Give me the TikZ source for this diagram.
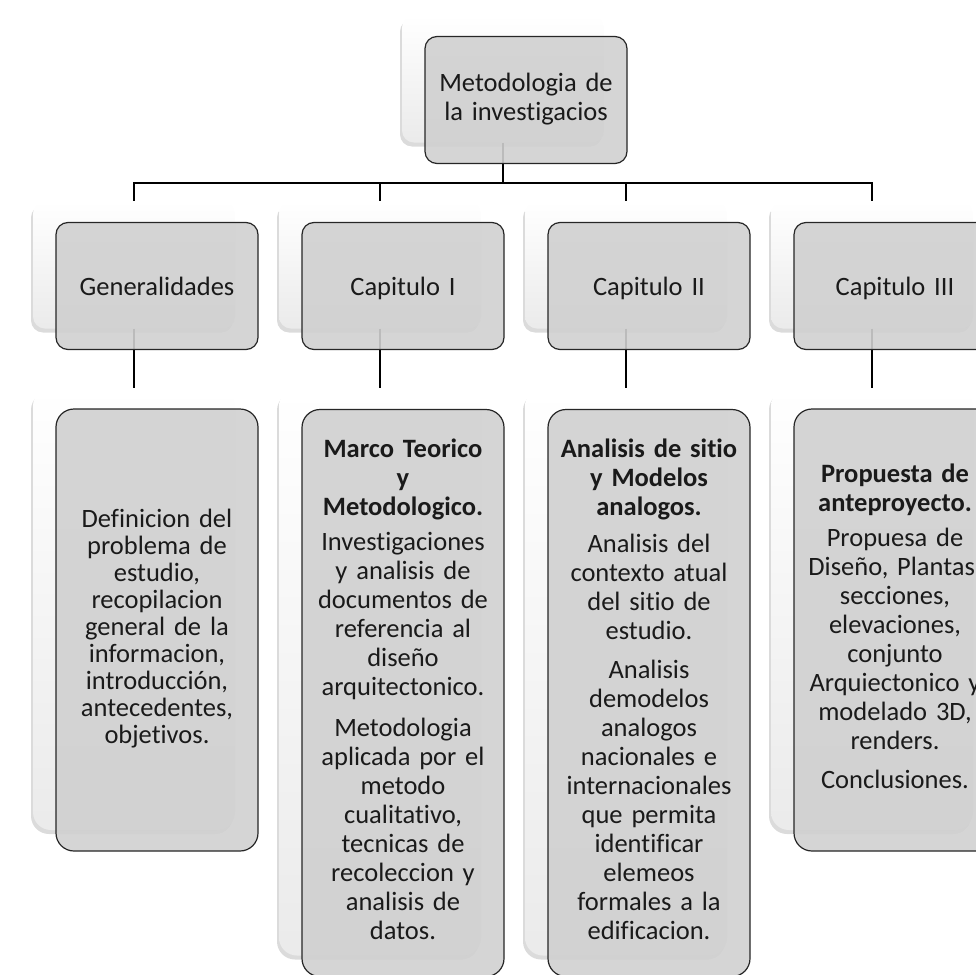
\documentclass[tikz,border=0pt]{standalone}
\usepackage{fontspec}
\setmainfont{Carlito}[Ligatures=NoCommon]
\usetikzlibrary{shadows, positioning}

\definecolor{boxgray}{RGB}{208,208,208}
\definecolor{inkblack}{RGB}{26,26,26}

\begin{document}
\begin{tikzpicture}[x=1pt, y=-1pt,
  box/.style={rectangle, inner sep=3pt, text width=196pt, align=center,
    minimum width=202pt, text=inkblack, font=\fontsize{26.5}{29}\selectfont},
  backbox/.style={box, top color=white, bottom color=black!8,
    drop shadow={shadow xshift=-2pt, shadow yshift=-4pt, opacity=0.2, fill=black!70}},
  frontbox/.style={box, fill=boxgray, fill opacity=0.9, text opacity=1,
    draw=black!85, line width=1.2pt},
  shortbox/.style={minimum height=127pt, rounded corners=12pt},
  onelabel/.style={text height=21pt, text depth=3pt},
  midbox/.style={minimum height=442pt, rounded corners=18pt,
    execute at begin node=\strut, execute at end node=\strut},
  tallbox/.style={minimum height=567pt, rounded corners=18pt,
    execute at begin node=\strut, execute at end node=\strut},
  link/.style={draw=black, line width=2pt}]
\useasboundingbox (0,0) rectangle (976,974);

% back boxes
\node[backbox, shortbox] (topback) at (503,79) {};
\node[backbox, shortbox] (genback) at (134,265) {};
\node[backbox, shortbox] (cap1back) at (380,265) {};
\node[backbox, shortbox] (cap2back) at (626,265) {};
\node[backbox, shortbox] (cap3back) at (872,265) {};
\node[backbox, midbox] (defback) at (134,609) {};
\node[backbox, tallbox] (marcoback) at (380,672) {};
\node[backbox, tallbox] (sitioback) at (626,672) {};
\node[backbox, midbox] (propback) at (872,609) {};

% connectors
\coordinate (bar) at (0,183);
\draw[link] (topback.south) -- (topback.south |- bar) -| (genback.north);
\draw[link] (topback.south |- bar) -| (cap1back.north);
\draw[link] (topback.south |- bar) -| (cap2back.north);
\draw[link] (topback.south |- bar) -| (cap3back.north);
\draw[link] (genback.south) -- (defback.north);
\draw[link] (cap1back.south) -- (marcoback.north);
\draw[link] (cap2back.south) -- (sitioback.north);
\draw[link] (cap3back.south) -- (propback.north);

% front boxes
\node[frontbox, shortbox] (top) at ([shift={(23,21)}]topback.center)
  {\strut Metodologia de\\la investigacios\strut};
\node[frontbox, shortbox, onelabel] (gen) at ([shift={(23,21)}]genback.center) {Generalidades};
\node[frontbox, shortbox, onelabel] (cap1) at ([shift={(23,21)}]cap1back.center) {Capitulo I};
\node[frontbox, shortbox, onelabel] (cap2) at ([shift={(23,21)}]cap2back.center) {Capitulo II};
\node[frontbox, shortbox, onelabel] (cap3) at ([shift={(23,21)}]cap3back.center) {Capitulo III};

\node[frontbox, midbox, font=\fontsize{26.5}{27}\selectfont] (def) at ([shift={(23,21)}]defback.center)
  {Definicion del\\problema de\\estudio,\\recopilacion\\general de la\\informacion,\\introducción,\\antecedentes,\\objetivos.};
\node[frontbox, tallbox] (marco) at ([shift={(23,21)}]marcoback.center)
  {\textbf{Marco Teorico}\\\textbf{y}\\\textbf{Metodologico.}\\[6pt]
   Investigaciones\\y analisis de\\documentos de\\referencia al\\diseño\\arquitectonico.\\[12pt]
   Metodologia\\aplicada por el\\metodo\\cualitativo,\\tecnicas de\\recoleccion y\\analisis de\\datos.};
\node[frontbox, tallbox] (sitio) at ([shift={(23,21)}]sitioback.center)
  {\textbf{Analisis de sitio}\\\textbf{y Modelos}\\\textbf{analogos.}\\[8pt]
   Analisis del\\contexto atual\\del sitio de\\estudio.\\[10pt]
   Analisis\\demodelos\\analogos\\nacionales e\\internacionales\\que permita\\identificar\\elemeos\\formales a la\\edificacion.};
\node[frontbox, midbox] (prop) at ([shift={(23,21)}]propback.center)
  {\textbf{Propuesta de}\\\textbf{anteproyecto.}\\[6pt]
   Propuesa de\\Diseño, Plantas,\\secciones,\\elevaciones,\\conjunto\\Arquiectonico y\\modelado 3D,\\renders.\\[10pt]
   Conclusiones.};
\end{tikzpicture}
\end{document}
